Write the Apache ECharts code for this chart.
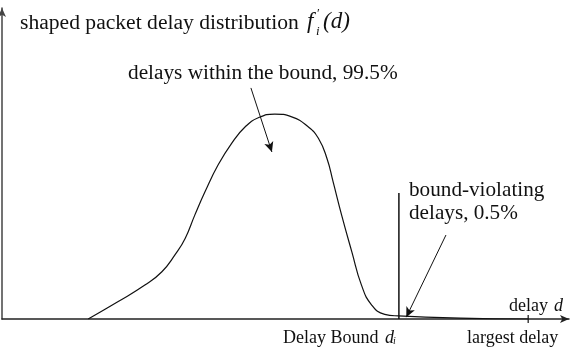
<!DOCTYPE html>
<html><head><meta charset="utf-8">
<script src="https://cdn.jsdelivr.net/npm/echarts@6/dist/echarts.min.js"></script>
<style>html,body{margin:0;padding:0;background:#fff}#c{width:570px;height:352px}</style>
</head><body><div id="c"></div>
<script>
// delay (arbitrary units, 0..100) and shaped density (0..1)
const delayX = [15.2, 20.5, 25.2, 28.2, 30.5, 32.3, 34.0, 35.8, 38.1, 40.5, 42.9, 45.2, 48.1, 51.1, 54.0, 55.8, 57.3, 58.4, 59.9, 61.7, 63.4, 65.2, 67.5, 69.9, 80.8, 92.8];
const density = [0, 0.056, 0.109, 0.152, 0.206, 0.259, 0.334, 0.409, 0.495, 0.565, 0.618, 0.647, 0.659, 0.650, 0.618, 0.581, 0.517, 0.441, 0.334, 0.216, 0.109, 0.045, 0.015, 0.010, 0.003, 0];
const delayBound = 70.0;
const boundLineTop = 0.405;
const largestDelay = 92.8;
const arrowWithin = [[43.9, 0.743], [47.6, 0.537]];
const arrowViolating = [[78.3, 0.270], [71.3, 0.006]];
const titleText = 'shaped packet delay distribution';
const withinText = 'delays within the bound, 99.5%';
const violatingText = ['bound-violating', 'delays, 0.5%'];

const FONT = '"Liberation Serif", "Times New Roman", serif';
const chart = echarts.init(document.getElementById('c'), null, {renderer: 'canvas'});

const curve = delayX.map((x, i) => [x, density[i]]);

function txt(text, x, y, size, opts) {
  return {
    type: 'text', x: x, y: y, silent: true,
    style: Object.assign({text: text, fontFamily: FONT, fontSize: size, fill: '#111', verticalAlign: 'middle', align: 'left'}, opts || {})
  };
}

chart.setOption({
  animation: false,
  grid: {left: 2, right: 1, top: 8, bottom: 33},
  xAxis: {
    type: 'value', min: 0, max: 100,
    axisLine: {show: true, onZero: false, symbol: ['none', 'arrow'], symbolSize: [6, 9], lineStyle: {color: '#222', width: 1.5}},
    axisTick: {show: false}, axisLabel: {show: false}, splitLine: {show: false}
  },
  yAxis: {
    type: 'value', min: 0, max: 1,
    axisLine: {show: true, onZero: false, symbol: ['none', 'arrow'], symbolSize: [6, 9], lineStyle: {color: '#444', width: 1.5}},
    axisTick: {show: false}, axisLabel: {show: false}, splitLine: {show: false}
  },
  series: [
    {
      type: 'line', data: curve, smooth: 0.5, showSymbol: false, symbol: 'none',
      lineStyle: {color: '#111', width: 1.2}, silent: true,
      markLine: {
        silent: true, symbol: ['none', 'arrow'], symbolSize: [7, 10],
        lineStyle: {color: '#111', width: 1, type: 'solid'},
        label: {show: false}, emphasis: {disabled: true},
        data: [
          [{coord: arrowWithin[0]}, {coord: arrowWithin[1]}],
          [{coord: arrowViolating[0]}, {coord: arrowViolating[1]}]
        ]
      }
    },
    {
      type: 'line', data: [[delayBound, 0], [delayBound, boundLineTop]], showSymbol: false, symbol: 'none',
      lineStyle: {color: '#111', width: 1.5}, silent: true
    },
    {
      type: 'line', data: [[largestDelay, -0.013], [largestDelay, 0.013]], showSymbol: false, symbol: 'none', clip: false,
      lineStyle: {color: '#111', width: 1.2}, silent: true
    }
  ],
  graphic: [
    txt(titleText, 20, 23, 21.6),
    txt('f', 307, 22, 23, {fontStyle: 'italic'}),
    txt('\u2032', 317, 14, 13),
    txt('i', 316, 32, 13, {fontStyle: 'italic'}),
    txt('(d)', 323, 22, 23, {fontStyle: 'italic'}),
    txt(withinText, 128, 73, 21.3),
    txt(violatingText[0], 409, 190, 21.2),
    txt(violatingText[1], 409, 213, 21.2),
    txt('delay ', 509, 306, 18),
    txt('d', 554, 306, 18, {fontStyle: 'italic'}),
    txt('Delay Bound', 283, 338, 18),
    txt('d', 385, 338, 18, {fontStyle: 'italic'}),
    txt('i', 393, 341, 10, {fontStyle: 'italic'}),
    txt('largest delay', 467, 338, 18)
  ]
});
</script>
</body></html>
